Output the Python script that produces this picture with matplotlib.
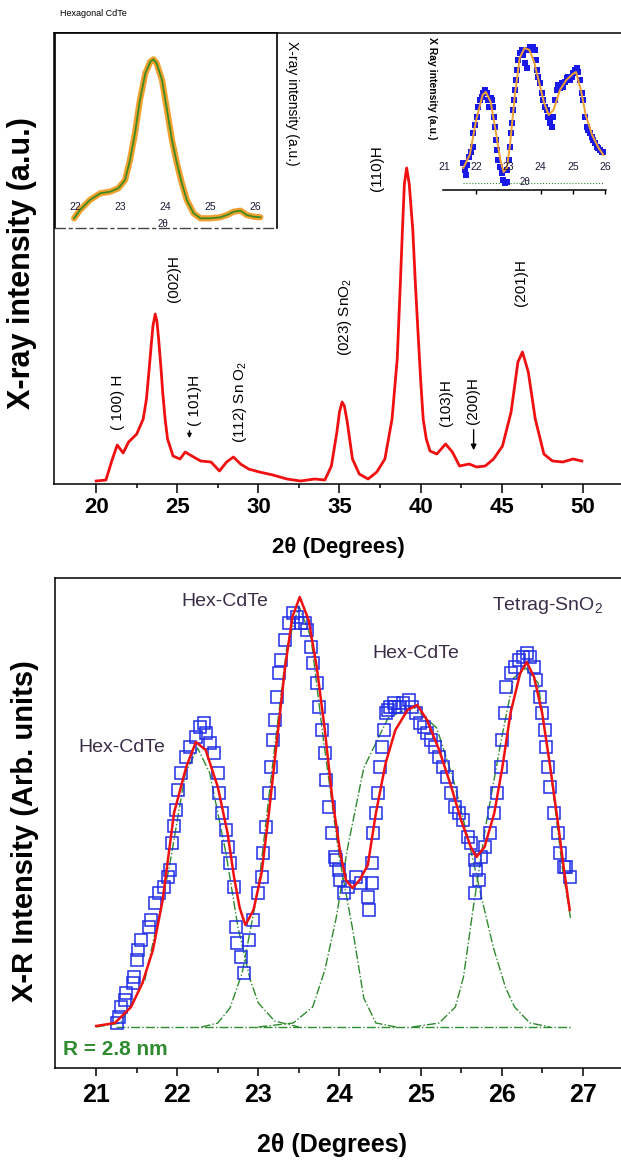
import matplotlib
matplotlib.use('Agg')
import matplotlib.pyplot as plt
import matplotlib.transforms as mtransforms

plt.rcParams['font.family'] = ['Liberation Sans', 'DejaVu Sans']
plt.rcParams['mathtext.fontset'] = 'custom'
plt.rcParams['mathtext.rm'] = 'Liberation Sans'
plt.rcParams['mathtext.it'] = 'Liberation Sans:italic'
plt.rcParams['mathtext.bf'] = 'Liberation Sans:bold'

# ---------------- data: full XRD pattern (top) ----------------
xrd_2theta = [20.0, 20.6, 21.0, 21.3, 21.66, 22.0, 22.5, 22.9, 23.1, 23.25, 23.4, 23.5, 23.64, 23.75,
              23.85, 24.0, 24.1, 24.25, 24.4, 24.74, 25.17, 25.49, 25.9, 26.44, 27.08, 27.6, 28.04,
              28.46, 28.9, 29.4, 30.06, 30.9, 31.76, 32.6, 33.46, 34.1, 34.5, 34.84, 35.0, 35.16,
              35.3, 35.48, 35.8, 36.22, 36.76, 37.3, 37.8, 38.24, 38.56, 38.75, 38.88, 39.0, 39.14,
              39.3, 39.52, 39.68, 39.84, 40.0, 40.16, 40.35, 40.58, 41.0, 41.54, 41.96, 42.4, 43.0,
              43.45, 43.98, 44.5, 45.05, 45.58, 46.0, 46.28, 46.64, 47.07, 47.6, 48.13, 48.77, 49.4, 49.94]
xrd_intensity = [3, 4, 25, 39, 31, 42, 50, 65, 85, 112, 140, 158, 170, 162, 145, 115, 92, 65, 45, 28,
                 25, 32, 28, 23, 22, 13, 22, 27, 20, 15, 12, 9, 5, 3, 5, 4, 18, 52, 72, 82, 78, 62,
                 25, 10, 5, 12, 25, 65, 125, 200, 254, 300, 316, 300, 254, 200, 152, 105, 65, 45, 33,
                 30, 40, 32, 18, 20, 17, 18, 25, 38, 72, 122, 132, 112, 65, 30, 23, 22, 25, 23]

peak_labels = ['( 100) H', '(002)H', '( 101)H', '(112) Sn O$_2$', '(023) SnO$_2$', '(110)H',
               '(103)H', '(200)H', '(201)H']
peak_label_x = [21.32, 24.8, 26.07, 28.87, 35.34, 37.3, 41.57, 43.23, 46.2]
peak_label_y = [82, 205, 84, 82, 167, 316, 81, 83, 201]

# ---------------- data: inset hexagonal CdTe (top left) ----------------
insA_x = [21.98, 22.11, 22.33, 22.56, 22.78, 22.96, 23.11, 23.22, 23.33, 23.44, 23.56, 23.67, 23.74,
          23.81, 23.93, 24.04, 24.15, 24.26, 24.37, 24.48, 24.63, 24.78, 25.0, 25.22, 25.37, 25.52,
          25.67, 25.81, 25.96, 26.11]
insA_y = [9.7, 18, 28, 34.7, 36.3, 39.7, 48, 68, 94.7, 128, 154.7, 166.3, 168.7, 164.7, 148, 118, 88,
          64.7, 44.7, 28, 14.7, 9.7, 9.7, 10.7, 13, 16.3, 17.3, 13, 11.3, 10.7]
insA_ticks = [22, 23, 24, 25, 26]

# ---------------- data: inset (top right) ----------------
insB_x = [21.60, 21.65, 21.68, 21.72, 21.79, 21.83, 21.89, 21.91, 21.96, 22.01, 22.07, 22.12, 22.17,
          22.22, 22.27, 22.33, 22.38, 22.41, 22.45, 22.48, 22.51, 22.55, 22.58, 22.61, 22.66, 22.69,
          22.74, 22.79, 22.84, 22.89, 22.95, 22.97, 23.01, 23.05, 23.07, 23.10, 23.13, 23.17, 23.20,
          23.24, 23.28, 23.31, 23.36, 23.41, 23.46, 23.52, 23.57, 23.62, 23.67, 23.72, 23.77, 23.83,
          23.86, 23.90, 23.93, 23.98, 24.03, 24.08, 24.14, 24.19, 24.24, 24.29, 24.34, 24.40, 24.45,
          24.50, 24.55, 24.60, 24.65, 24.71, 24.76, 24.81, 24.86, 24.91, 24.96, 25.02, 25.07, 25.12,
          25.17, 25.22, 25.28, 25.33, 25.38, 25.43, 25.48, 25.53, 25.59, 25.64, 25.69, 25.74, 25.79,
          25.84, 25.90, 25.95]
insB_y = [26.7, 20, 15, 25, 33.3, 38.3, 43.3, 56.7, 65, 73.3, 83.3, 90, 93.3, 96.7, 100, 96.7, 90,
          83.3, 91.7, 90, 83.3, 73.3, 63.3, 50, 40, 30, 23.3, 16.7, 10, 6.7, 8.3, 20, 30, 43.3, 56.7,
          66.7, 80, 90, 100, 110, 120, 130, 136.7, 140, 135, 126.7, 121.7, 140, 143.3, 140, 143.3, 140,
          130, 120, 113.3, 106.7, 96.7, 90, 83.3, 80, 73.3, 66.7, 63.3, 73.3, 90, 100, 105, 101.7,
          106.7, 103.3, 108.3, 111.7, 113.3, 110, 113.3, 116.7, 120, 121.7, 118.3, 110, 96.7, 90, 73.3,
          63.3, 60, 56.7, 53.3, 50, 46.7, 43.3, 41.7, 40, 38.3, 38.3]
insB_fit_x = [21.6, 21.8, 22.0, 22.2, 22.3, 22.45, 22.6, 22.75, 22.85, 22.95, 23.05, 23.2, 23.35, 23.5,
              23.65, 23.8, 23.95, 24.1, 24.25, 24.4, 24.6, 24.8, 25.0, 25.1, 25.25, 25.4, 25.6, 25.8, 25.95]
insB_fit_y = [22, 35, 70, 95, 98, 88, 60, 30, 18, 22, 45, 95, 132, 142, 140, 128, 108, 88, 75, 80, 100,
              110, 116, 118, 100, 75, 55, 42, 35]
insB_ticks = [21, 22, 23, 24, 25, 26]

# ---------------- data: peak fit (bottom) ----------------
obs_x = [21.26, 21.28, 21.31, 21.35, 21.37, 21.45, 21.47, 21.50, 21.52, 21.55,
         21.65, 21.67, 21.72, 21.77, 21.84, 21.89, 21.91, 21.99, 22.01, 22.04,
         22.11, 22.16, 22.23, 22.28, 22.33, 22.35, 22.40, 22.45, 22.50, 22.52,
         22.55, 22.60, 22.62, 22.65, 22.70, 22.72, 22.74, 22.79, 22.82, 22.89,
         22.94, 22.99, 23.04, 23.06, 23.09, 23.13, 23.16, 23.18, 23.21, 23.23,
         23.25, 23.28, 23.33, 23.38, 23.43, 23.48, 23.53, 23.58, 23.60, 23.65,
         23.67, 23.72, 23.75, 23.79, 23.82, 23.84, 23.87, 23.91, 23.94, 23.96,
         23.99, 24.01, 24.06, 24.11, 24.21, 24.27, 24.35, 24.37, 24.40, 24.40,
         24.42, 24.45, 24.47, 24.50, 24.52, 24.55, 24.57, 24.60, 24.62, 24.67,
         24.69, 24.74, 24.79, 24.86, 24.89, 24.94, 24.99, 25.04, 25.08, 25.13,
         25.18, 25.23, 25.28, 25.33, 25.38, 25.43, 25.48, 25.53, 25.58, 25.62,
         25.67, 25.69, 25.72, 25.67, 25.74, 25.79, 25.86, 25.91, 25.94, 25.99,
         26.01, 26.04, 26.06, 26.11, 26.16, 26.21, 26.26, 26.31, 26.35, 26.40,
         26.43, 26.47, 26.50, 26.53, 26.55, 26.57, 26.60, 26.65, 26.69, 26.72,
         26.77, 26.79, 26.84, 21.94, 21.96]
obs_y = [45, 51, 61, 68, 75, 85, 91, 108, 118, 128,
         141, 148, 165, 175, 181, 191, 198, 258, 278, 295,
         311, 321, 331, 341, 345, 335, 325, 315, 295, 275,
         255, 238, 221, 205, 181, 141, 125, 111, 95, 128,
         148, 175, 191, 215, 241, 275, 301, 328, 348, 371,
         395, 408, 428, 445, 455, 451, 445, 445, 438, 421,
         405, 385, 361, 338, 315, 288, 261, 235, 211, 208,
         198, 188, 175, 181, 191, 185, 171, 158, 185, 205,
         235, 255, 275, 301, 321, 338, 355, 358, 361, 365,
         361, 361, 365, 368, 361, 355, 345, 341, 335, 328,
         321, 311, 301, 291, 275, 261, 255, 248, 231, 225,
         208, 198, 188, 175, 211, 221, 235, 255, 275, 301,
         328, 355, 381, 395, 401, 408, 411, 415, 411, 401,
         388, 371, 355, 338, 321, 301, 281, 255, 235, 215,
         201, 201, 191, 225, 242]

fit_x = [21.0, 21.23, 21.43, 21.57, 21.70, 21.82, 21.96, 22.11, 22.23, 22.35,
         22.50, 22.62, 22.70, 22.77, 22.84, 22.94, 23.04, 23.13, 23.23, 23.33,
         23.42, 23.51, 23.62, 23.72, 23.82, 23.91, 24.01, 24.08, 24.16, 24.25,
         24.35, 24.45, 24.57, 24.69, 24.84, 24.96, 25.08, 25.23, 25.38, 25.50,
         25.62, 25.69, 25.79, 25.91, 26.01, 26.11, 26.23, 26.31, 26.40, 26.50,
         26.60, 26.69, 26.77, 26.84]
fit_y = [42, 45, 61, 85, 118, 168, 255, 301, 326, 318,
         281, 235, 191, 160, 143, 158, 195, 255, 328, 401,
         451, 471, 448, 401, 338, 271, 215, 188, 180, 188,
         203, 255, 305, 338, 358, 363, 348, 318, 281, 248,
         221, 211, 221, 255, 301, 355, 395, 406, 391, 355,
         301, 248, 198, 158]

comp1_x = [21.0, 21.3, 21.6, 21.9, 22.1, 22.25, 22.4, 22.6, 22.75, 22.9, 23.0, 23.2, 23.5]
comp1_y = [41, 45, 88, 200, 295, 320, 295, 215, 140, 88, 65, 47, 41]
comp2_x = [22.3, 22.5, 22.65, 22.8, 23.0, 23.2, 23.35, 23.5, 23.65, 23.8, 24.0, 24.16, 24.3, 24.45, 24.7]
comp2_y = [41, 45, 60, 95, 180, 320, 420, 462, 430, 330, 210, 140, 70, 45, 41]
comp3_x = [23.0, 23.43, 23.67, 23.82, 23.96, 24.1, 24.3, 24.6, 24.9, 25.2, 25.4, 25.6, 25.74, 25.9,
           26.05, 26.16, 26.35, 26.6]
comp3_y = [41, 45, 61, 98, 150, 220, 300, 350, 362, 340, 290, 225, 175, 120, 80, 61, 45, 41]
comp4_x = [24.9, 25.23, 25.43, 25.53, 25.65, 25.8, 26.0, 26.15, 26.3, 26.45, 26.6, 26.75, 26.85]
comp4_y = [41, 45, 61, 91, 160, 240, 330, 390, 400, 385, 300, 200, 150]
base_x = [21.25, 26.85]
base_y = [41, 41]

phase_labels = ['Hex-CdTe', 'Hex-CdTe', 'Hex-CdTe', 'Tetrag-SnO$_2$']
phase_x = [21.31, 22.59, 24.94, 26.56]
phase_y = [320, 466, 415, 463]

# ---------------- figure ----------------
W, H = 621, 1161
fig = plt.figure(figsize=(W / 100, H / 100), dpi=100)


def box(l, t, r, b):
    return [l / W, 1 - b / H, (r - l) / W, (b - t) / H]


RED = '#f01010'
BLUE = '#1f2ee8'
GREEN = '#2e8b2e'
TXT = '#3a2d48'

# ---- top main panel ----
ax = fig.add_axes(box(54, 33, 630, 484))
ax.plot(xrd_2theta, xrd_intensity, color=RED, lw=2.0)
ax.set_xlim(17.40, 52.91)
ax.set_ylim(0, 451)
ax.set_yticks([])
ax.set_xticks([20, 25, 30, 35, 40, 45, 50])
ax.set_xticks([22.5, 27.5, 32.5, 37.5, 42.5, 47.5, 52.5], minor=True)
ax.tick_params(axis='x', which='major', length=6.5, width=1.1, direction='out', pad=3, labelsize=16)
ax.tick_params(axis='x', which='minor', length=3, width=1.1, direction='out')
for lbl in ax.get_xticklabels():
    lbl.set_fontweight('bold')
ax.spines['right'].set_visible(False)
for s in ['left', 'top', 'bottom']:
    ax.spines[s].set_linewidth(1.1)
for t, x, y in zip(peak_labels, peak_label_x, peak_label_y):
    ax.text(x, y, t, rotation=90, ha='center', va='center', fontsize=11)
ax.annotate('', xy=(43.27, 31), xytext=(43.27, 57),
            arrowprops=dict(arrowstyle='-|>', color='k', lw=1.0, mutation_scale=8))
ax.annotate('', xy=(25.75, 43), xytext=(25.75, 56),
            arrowprops=dict(arrowstyle='-|>', color='k', lw=1.0, mutation_scale=6))

# ---- top-left inset ----
axA = fig.add_axes(box(55, 33, 277, 228))
axA.plot(insA_x, insA_y, color='#f2a030', lw=4.5, solid_capstyle='round')
axA.plot(insA_x, insA_y, color='#3d8a1e', lw=1.3)
axA.set_xlim(21.556, 26.48)
axA.set_ylim(0, 195)
axA.set_xticks([])
axA.set_yticks([])
for s in ['left', 'top', 'right']:
    axA.spines[s].set_linewidth(1.2)
axA.spines['bottom'].set_linestyle((0, (7, 3, 2, 3)))
axA.spines['bottom'].set_linewidth(1.0)
axA.spines['bottom'].set_color('#444444')
trA = mtransforms.blended_transform_factory(axA.transData, axA.transAxes)
for v in insA_ticks:
    axA.text(v, 0.108, str(v), transform=trA, ha='center', va='center', fontsize=7.5, color='#1a1a3a')
axA.text(0.486, 0.02, '2θ', transform=axA.transAxes, ha='center', va='center', fontsize=7, color='#1a1a3a')

# ---- top-right inset ----
axB = fig.add_axes(box(443, 33, 606, 190))
axB.patch.set_alpha(0)
axB.plot([insB_fit_x[0], insB_fit_x[-1]], [7, 7], color=GREEN, lw=0.8, ls=':')
axB.plot(insB_x, insB_y, 's', color='#1a1ae8', ms=4.5, mew=0)
axB.plot(insB_fit_x, insB_fit_y, color='#f0a030', lw=1.4)
axB.set_xlim(20.97, 26.03)
axB.set_ylim(0, 157)
axB.set_yticks([])
axB.set_xticks([22, 24, 25, 26])
axB.tick_params(axis='x', length=3, width=1, direction='out', labelbottom=False)
for s in ['left', 'top', 'right']:
    axB.spines[s].set_visible(False)
axB.spines['bottom'].set_linewidth(1.1)
trB = mtransforms.blended_transform_factory(axB.transData, axB.transAxes)
for v in insB_ticks:
    axB.text(v, 0.146, str(v), transform=trB, ha='center', va='center', fontsize=7.5, color='#1a1a3a')
axB.text(0.503, 0.05, '2θ', transform=axB.transAxes, ha='center', va='center', fontsize=7, color='#1a1a3a')

fig.text(60 / W, 1 - 14 / H, 'Hexagonal CdTe', fontsize=6.5, ha='left', va='center')
fig.text(292 / W, 1 - 103 / H, 'X-ray intensity (a.u.)', rotation=-90, fontsize=10,
         ha='center', va='center')
fig.text(432 / W, 1 - 88 / H, 'X Ray intensity (a.u.)', rotation=-90, fontsize=7.5,
         fontweight='bold', ha='center', va='center')
fig.text(22 / W, 1 - 263 / H, 'X-ray intensity (a.u.)', rotation=90, fontsize=22,
         fontweight='bold', ha='center', va='center')
fig.text(338 / W, 1 - 548 / H, '2θ (Degrees)', fontsize=16, fontweight='bold',
         ha='center', va='center')

# ---- bottom panel ----
bx = fig.add_axes(box(54.6, 578, 640, 1068))
bx.plot(base_x, base_y, color=GREEN, lw=1.0, ls='-.', zorder=1)
for cx, cy in [(comp1_x, comp1_y), (comp2_x, comp2_y), (comp3_x, comp3_y), (comp4_x, comp4_y)]:
    bx.plot(cx, cy, color=GREEN, lw=1.0, ls='-.', zorder=1)
bx.plot(obs_x, obs_y, 's', ms=8.5, mfc='none', mec=BLUE, mew=1.1, zorder=2)
bx.plot(fit_x, fit_y, color=RED, lw=1.8, zorder=3)
bx.set_xlim(20.487, 27.707)
bx.set_ylim(0, 490)
bx.set_yticks([])
bx.set_xticks([21, 22, 23, 24, 25, 26, 27])
bx.set_xticks([21.5, 22.5, 23.5, 24.5, 25.5, 26.5, 27.5], minor=True)
bx.tick_params(axis='x', which='major', length=6, width=1.1, direction='out', pad=4.5, labelsize=18)
bx.tick_params(axis='x', which='minor', length=3.5, width=1.1, direction='out')
for lbl in bx.get_xticklabels():
    lbl.set_fontweight('bold')
bx.spines['right'].set_visible(False)
for s in ['left', 'top', 'bottom']:
    bx.spines[s].set_linewidth(1.1)
for t, x, y in zip(phase_labels, phase_x, phase_y):
    bx.text(x, y, t, ha='center', va='center', fontsize=14, color=TXT)
bx.text(0.0143, 0.037, 'R = 2.8 nm', transform=bx.transAxes, ha='left', va='center',
        fontsize=15, fontweight='bold', color=GREEN)

fig.text(25 / W, 1 - 831 / H, 'X-R Intensity (Arb. units)', rotation=90, fontsize=21,
         fontweight='bold', ha='center', va='center')
fig.text(332 / W, 1 - 1145 / H, '2θ (Degrees)', fontsize=18, fontweight='bold',
         ha='center', va='center')

fig.savefig('out.png', dpi=100)
